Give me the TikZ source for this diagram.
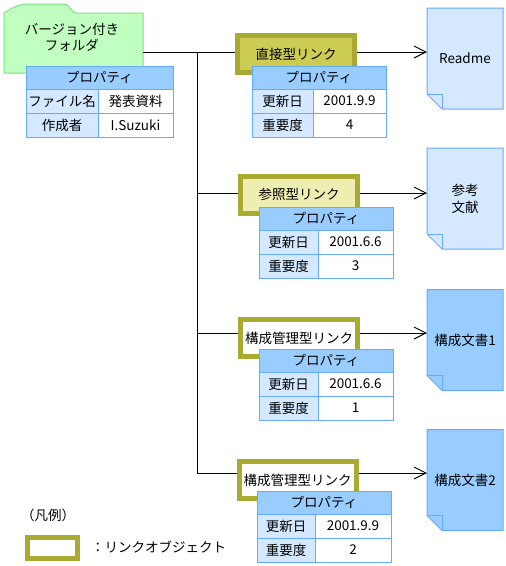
\documentclass[tikz,border=0pt]{standalone}
\usepackage{fontspec}
\setmainfont{Noto Sans CJK JP}
\usetikzlibrary{arrows.meta,backgrounds}
\definecolor{foldfill}{RGB}{192,255,192}
\definecolor{foldline}{RGB}{128,224,128}
\definecolor{headblue}{RGB}{153,204,255}
\definecolor{paleblue}{RGB}{212,232,255}
\definecolor{gridblue}{RGB}{102,170,255}
\definecolor{linkline}{RGB}{170,170,51}
\definecolor{linkfill}{RGB}{204,204,85}
\definecolor{linkpale}{RGB}{238,238,176}
\tikzset{
  wire/.style     = {black,line width=1pt},
  linkarr/.style  = {wire,-{Straight Barb[length=12pt,width=12pt]}},
  linkbox/.style  = {draw=linkline,line width=5pt,fill=white,minimum width=117pt,minimum height=37pt,inner sep=1pt},
  cellbase/.style = {draw=gridblue,line width=1pt,outer sep=0pt,inner sep=1pt,anchor=north west},
  prophead/.style = {cellbase,fill=headblue,minimum height=23pt},
  propkey/.style  = {cellbase,fill=paleblue,minimum height=24pt},
  propval/.style  = {cellbase,fill=white,minimum height=24pt},
  docpage/.style  = {minimum width=76pt,minimum height=101pt,inner sep=0pt,outer sep=0pt,align=center},
  pageline/.style = {draw=gridblue,line width=1pt}
}
\newcommand{\proptable}[8]{%
  \node[prophead,minimum width={#3+#4}] (#1h) at (#2) {プロパティ};
  \node[propkey,minimum width=#3] (#1k1) at (#1h.south west) {#5};
  \node[propval,minimum width=#4] (#1v1) at (#1k1.north east) {#6};
  \node[propkey,minimum width=#3] (#1k2) at (#1k1.south west) {#7};
  \node[propval,minimum width=#4] (#1v2) at (#1k2.north east) {#8};
}
\newcommand{\pagefold}[2]{%
  \draw[pageline,fill=#2] (#1.north west) -- (#1.north east) -- (#1.south east)
    -- ([xshift=15pt]#1.south west) -- ([yshift=15pt]#1.south west) -- cycle;
  \draw[pageline] ([yshift=15pt]#1.south west) -- ([shift={(15pt,15pt)}]#1.south west)
    -- ([xshift=15pt]#1.south west);
}
\begin{document}
\begin{tikzpicture}[x=1pt,y=1pt,font=\fontsize{13.5}{17}\selectfont]
  \useasboundingbox (0,0) rectangle (506,-566);
  \node[minimum width=139pt,minimum height=60pt,inner sep=0pt,outer sep=0pt] (folder) at (73.5,-43) {};
  \node[align=center,font=\fontsize{13.5}{16}\selectfont] (foldername) at (72,-37) {バージョン付き\\フォルダ};
  \node[docpage] (readme) at (465,-58.5) {Readme};
  \node[docpage] (sanko) at (465,-198.5) {参考\\文献};
  \node[docpage] (kosei1) at (465,-340) {構成文書1};
  \node[docpage] (kosei2) at (465,-480) {構成文書2};
  \begin{scope}[on background layer]
    \draw[draw=foldline,fill=foldfill,line width=1pt] (folder.south west) -- (folder.north west)
      .. controls ([shift={(8pt,5pt)}]folder.north west) and ([shift={(14pt,9pt)}]folder.north west)
      .. ([shift={(26pt,9pt)}]folder.north west) -- ([shift={(60pt,9pt)}]folder.north west)
      .. controls ([shift={(66pt,9pt)}]folder.north west) and ([shift={(67pt,0pt)}]folder.north west)
      .. ([shift={(72pt,0pt)}]folder.north west) -- (folder.north east) -- (folder.south east) -- cycle;
    \pagefold{readme}{paleblue}
    \pagefold{sanko}{paleblue}
    \pagefold{kosei1}{headblue}
    \pagefold{kosei2}{headblue}
  \end{scope}
  \node[linkbox,fill=linkfill] (direct) at (296,-54) {直接型リンク};
  \node[linkbox,fill=linkpale] (refer) at (299,-194.5) {参照型リンク};
  \node[linkbox] (config1) at (299,-338) {構成管理型リンク};
  \node[linkbox] (config2) at (297.5,-480) {構成管理型リンク};
  \coordinate (br1) at (197,-52);
  \coordinate (br2) at (197,-193);
  \coordinate (br3) at (197,-333);
  \coordinate (br4) at (197,-473);
  \draw[wire] (folder.east |- br1) -- (br1) -- (br4) -- (br4 -| config2.west);
  \draw[wire] (br1) -- (br1 -| direct.west);
  \draw[wire] (br2) -- (br2 -| refer.west);
  \draw[wire] (br3) -- (br3 -| config1.west);
  \draw[linkarr] (direct.east |- br1) -- (br1 -| readme.west);
  \draw[linkarr] (refer.east |- br2) -- (br2 -| sanko.west);
  \draw[linkarr] (config1.east |- br3) -- (br3 -| kosei1.west);
  \draw[linkarr] (config2.east |- br4) -- (br4 -| kosei2.west);
  \proptable{tf}{26,-66}{72}{75}{ファイル名}{発表資料}{作成者}{I.Suzuki}
  \proptable{td}{252,-66}{61}{73}{更新日}{2001.9.9}{重要度}{4}
  \proptable{tr}{259,-207}{59}{75}{更新日}{2001.6.6}{重要度}{3}
  \proptable{ta}{259,-349}{59}{75}{更新日}{2001.6.6}{重要度}{1}
  \proptable{tb}{257,-491}{58}{76}{更新日}{2001.9.9}{重要度}{2}
  \node (legendtitle) at (48,-515) {（凡例）};
  \node[linkbox,minimum width=50pt,minimum height=21pt] (legendbox) at (52.5,-548) {};
  \node[anchor=west,inner sep=0pt] (legendtext) at (91,-547) {：リンクオブジェクト};
\end{tikzpicture}
\end{document}
